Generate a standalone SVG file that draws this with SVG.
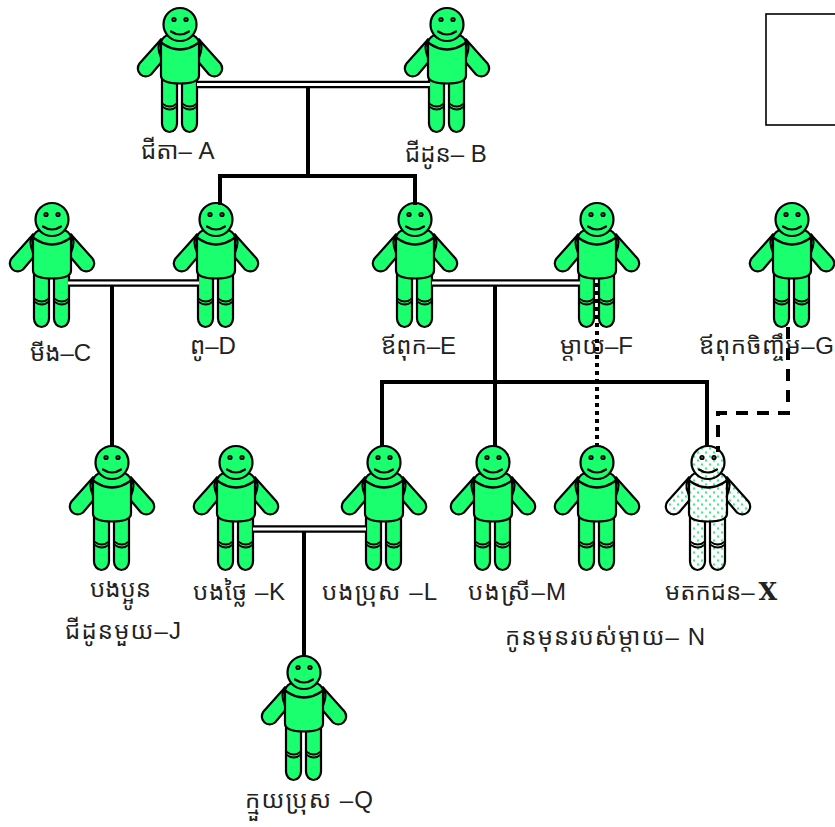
<svg xmlns="http://www.w3.org/2000/svg" xmlns:xlink="http://www.w3.org/1999/xlink" width="835" height="827" viewBox="0 0 835 827">
<style>
.p{stroke:#000;stroke-width:2.2;stroke-linejoin:round}
.n{fill:none;stroke:#000;stroke-width:2.2;stroke-linecap:round}
.k{fill:none;stroke:#000;stroke-width:1.700;stroke-linecap:round}
text{font-family:"Liberation Sans","Noto Sans Khmer","Khmer OS","DejaVu Sans",sans-serif;font-size:24px;fill:#222}
.c{fill:none;stroke:#000;stroke-width:4}
.do{fill:none;stroke:#000;stroke-width:7.500}
.di{fill:none;stroke:#fff;stroke-width:3}
.green{fill:#19ff6e}
.dots{fill:url(#dots)}
</style>
<defs>
<pattern id="dots" width="8" height="8" patternUnits="userSpaceOnUse">
<rect width="8" height="8" fill="#fff"/>
<circle cx="2" cy="2" r="1.200" fill="#3fe88a"/><circle cx="6" cy="6" r="1.200" fill="#3fe88a"/>
</pattern>
<g id="man">
<path class="p" d="M-19 15 L-40.500 39 A8 8 0 0 0 -29 50 L-18 37 Z"/>
<path class="p" d="M19 15 L40.500 39 A8 8 0 0 1 29 50 L18 37 Z"/>
<path class="n" d="M-19 15 Q-24 22 -19 33 M19 15 Q24 22 19 33"/>
<path class="p" d="M-18 54 V99 A7.500 8.500 0 0 0 -3 99 V54 Z"/>
<path class="p" d="M2 54 V99 A7.500 8.500 0 0 0 17 99 V54 Z"/>
<path class="k" d="M-18 79 Q-10 85 -3 79 M-18 82 Q-10 88 -3 82 M2 79 Q10 85 17 79 M2 82 Q10 88 17 82"/>
<path class="p" d="M-19 19 C-19 12 -10 8 0 8 C10 8 19 12 19 19 V51 Q19 59 0 59 Q-19 59 -19 51 Z"/>
<path class="n" d="M-19 18 Q0 32 19 18"/>
<circle class="p" cx="0" cy="0" r="16.500"/>
<circle cx="-6" cy="-5" r="2.600" fill="#000"/><circle cx="6" cy="-5" r="2.600" fill="#000"/>
<circle cx="-6" cy="-5" r="0.900" fill="#666"/><circle cx="6" cy="-5" r="0.900" fill="#666"/>
<path class="n" d="M-9 7 Q0 13 9 7"/>
</g>
</defs>
<rect width="835" height="827" fill="#fff"/>
<rect id="legend" x="766" y="14" width="80" height="111" fill="#fff" stroke="#000" stroke-width="1.600"/>
<g id="n-a" class="green"><use href="#man" x="180" y="24.500"/><text x="141" y="159">ជីតា– A</text></g>
<g id="n-b" class="green"><use href="#man" x="447" y="24.500"/><text x="405" y="162">ជីដូន– B</text></g>
<g id="n-c" class="green"><use href="#man" x="52" y="219.500"/><text x="30" y="361">មីង–C</text></g>
<g id="n-d" class="green"><use href="#man" x="216" y="219.500"/><text x="190" y="354">ពូ–D</text></g>
<g id="n-e" class="green"><use href="#man" x="415" y="219.500"/><text x="381" y="354">ឪពុក–E</text></g>
<g id="n-f" class="green"><use href="#man" x="597" y="219.500"/><text x="560" y="354">ម្តាយ–F</text></g>
<g id="n-g" class="green"><use href="#man" x="792" y="219.500"/><text x="699" y="354" textLength="135">ឪពុកចិញ្ចឹម–G</text></g>
<g id="n-j" class="green"><use href="#man" x="112" y="462.500"/><text x="90" y="597">បងប្អូន</text><text x="65" y="639" textLength="116">ជីដូនមួយ–J</text></g>
<g id="n-k" class="green"><use href="#man" x="236" y="462.500"/><text x="193" y="600" textLength="92">បងថ្លៃ –K</text></g>
<g id="n-l" class="green"><use href="#man" x="384" y="462.500"/><text x="322" y="600" textLength="115">បងប្រុស –L</text></g>
<g id="n-m" class="green"><use href="#man" x="493" y="462.500"/><text x="468" y="600" textLength="98">បងស្រី–M</text></g>
<g id="n-n" class="green"><use href="#man" x="597" y="462.500"/><text x="505" y="645" textLength="200">កូនមុនរបស់ម្តាយ– N</text></g>
<g id="n-x" class="dots"><use href="#man" x="708" y="462.500"/><text x="665" y="600" style="fill:#222">មតកជន–<tspan dx="4" style="font-family:'DejaVu Serif',serif;font-weight:bold">X</tspan></text></g>
<g id="n-q" class="green"><use href="#man" x="304" y="672.500"/><text x="245" y="808" textLength="128">ក្មួយប្រុស –Q</text></g>
<g id="connectors">
<path class="do" d="M197 84.500H430M68 283H199M432 283H580M253 529H366"/>
<path class="di" d="M197 84.500H430M68 283H199M432 283H580M253 529H366"/>
<path class="c" d="M308 86V176M220 205V176H415V205M112 285V447M495 285V447M382 447V382H707V447M304 531V656"/>
<path class="c" d="M597 283V447" stroke-dasharray="4 4"/>
<path class="c" d="M788 327V413H718V452" stroke-dasharray="12 9"/>
</g>
</svg>
